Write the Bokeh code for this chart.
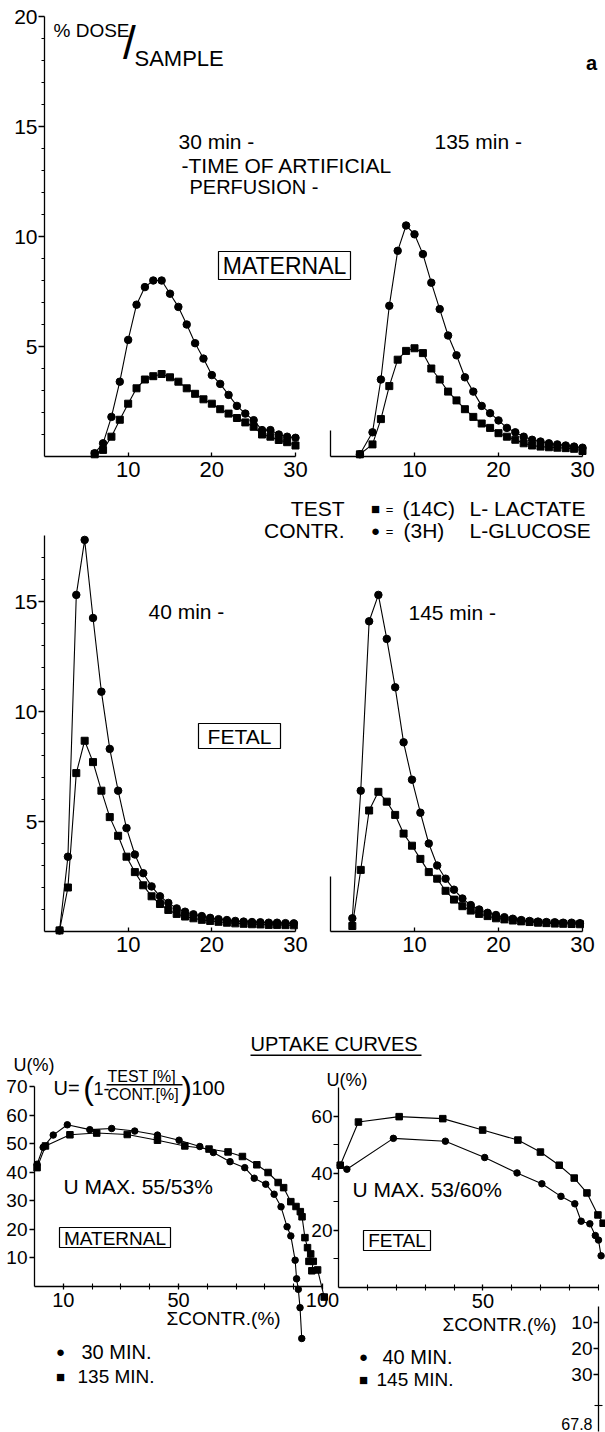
from bokeh.plotting import figure
from bokeh.layouts import column
from bokeh.models import Range1d, LinearAxis, FixedTicker, Label, BoxAnnotation, Grid
from bokeh.embed import file_html
from bokeh.resources import INLINE

# ---------------- data ----------------
# Maternal side, 30 min of artificial perfusion  (x = sample time, y = % dose / sample)
mat30_x = [6, 7, 8, 9, 10, 11, 12, 13, 14, 15, 16, 17, 18, 19, 20, 21, 22, 23, 24, 25, 26, 27, 28, 29, 30]
mat30_contr = [0.15, 0.6, 1.8, 3.4, 5.3, 6.9, 7.7, 8.0, 8.0, 7.4, 6.8, 6.0, 5.15, 4.45, 3.7, 3.3, 2.8, 2.3,
               1.95, 1.65, 1.2, 1.2, 1.0, 0.9, 0.85]
mat30_test = [0.1, 0.3, 0.9, 1.67, 2.4, 3.1, 3.5, 3.65, 3.75, 3.6, 3.4, 3.1, 2.85, 2.6, 2.4, 2.15, 1.95, 1.75,
              1.55, 1.35, 1.0, 0.9, 0.75, 0.65, 0.5]

# Maternal side, 135 min
mat135_x = [3.5, 5, 6, 7, 8, 9, 10, 11, 12, 13, 14, 15, 16, 17, 18, 19, 20, 21, 22, 23, 24, 25, 26, 27, 28, 29, 30]
mat135_contr = [0.1, 1.1, 3.5, 6.85, 9.35, 10.5, 10.1, 9.2, 7.9, 6.7, 5.5, 4.6, 3.6, 2.95, 2.3, 1.97, 1.64, 1.3,
                1.1, 0.9, 0.76, 0.68, 0.6, 0.55, 0.5, 0.45, 0.4]
mat135_test = [0.1, 0.55, 1.7, 3.2, 4.4, 4.8, 4.92, 4.7, 4.0, 3.5, 2.95, 2.55, 2.15, 1.8, 1.5, 1.3, 1.06, 0.9,
               0.76, 0.6, 0.5, 0.45, 0.42, 0.4, 0.38, 0.35, 0.25]

# Fetal side, 40 min
fet40_x = [1.8, 2.8, 3.8, 4.8, 5.8, 6.8, 7.8, 8.8, 9.8, 10.8, 11.8, 12.8, 13.8, 14.8, 15.8, 16.8, 17.8, 18.8,
           19.8, 20.8, 21.8, 22.8, 23.8, 24.8, 25.8, 26.8, 27.8, 28.8, 29.8]
fet40_contr = [0.05, 3.4, 15.3, 17.8, 14.25, 10.9, 8.3, 6.4, 4.7, 3.5, 2.65, 2.05, 1.6, 1.3, 1.05, 0.9, 0.78,
               0.7, 0.62, 0.56, 0.52, 0.48, 0.45, 0.43, 0.42, 0.4, 0.4, 0.38, 0.37]
fet40_test = [0.05, 2.0, 7.2, 8.67, 7.7, 6.4, 5.2, 4.35, 3.4, 2.7, 2.1, 1.6, 1.25, 0.98, 0.8, 0.68, 0.6, 0.53,
              0.48, 0.44, 0.4, 0.37, 0.35, 0.33, 0.32, 0.3, 0.3, 0.29, 0.28]

# Fetal side, 145 min
fet145_x = [2.6, 3.6, 4.6, 5.7, 6.7, 7.7, 8.7, 9.7, 10.7, 11.7, 12.7, 13.7, 14.7, 15.7, 16.7, 17.7, 18.7, 19.7,
            20.7, 21.7, 22.7, 23.7, 24.7, 25.7, 26.7, 27.7, 28.7, 29.7]
fet145_contr = [0.6, 6.4, 14.1, 15.3, 13.3, 11.1, 8.6, 6.9, 5.4, 4.0, 3.0, 2.4, 1.9, 1.5, 1.2, 1.0, 0.85, 0.75,
                0.65, 0.58, 0.52, 0.48, 0.45, 0.43, 0.42, 0.4, 0.4, 0.38]
fet145_test = [0.25, 2.8, 5.5, 6.35, 5.9, 5.3, 4.45, 3.9, 3.3, 2.7, 2.4, 1.85, 1.45, 1.15, 0.95, 0.8, 0.7, 0.6,
               0.55, 0.5, 0.46, 0.43, 0.4, 0.38, 0.36, 0.35, 0.34, 0.33]

# Uptake curves, maternal (x = cumulative control %, y = U %)
up30_x = [0.9, 3.0, 6.5, 11.4, 19.2, 26.8, 34.8, 42.7, 50.2, 57.4, 62.1, 67.9, 73.0, 76.3, 80.3, 83.2, 85.6,
          87.7, 89.0, 90.5, 91.0, 91.6, 92.2, 92.8]
up30_u = [42.8, 48.7, 53.0, 56.6, 54.9, 55.3, 54.4, 53.0, 51.2, 49.0, 46.9, 43.7, 41.6, 37.9, 35.8, 32.3, 27.9,
          20.9, 17.7, 9.2, 2.7, -1.0, -7.4, -18.2]
up135_x = [0.9, 3.8, 12.3, 21.6, 32.2, 42.7, 52.2, 60.6, 67.2, 72.2, 77.2, 81.1, 84.6, 86.5, 89.0, 90.8, 92.3,
           92.9, 93.9, 94.8, 95.9, 95.3, 96.8, 96.3, 98.3, 100.6]
up135_u = [41.6, 49.2, 53.1, 53.7, 53.2, 51.2, 49.2, 48.1, 47.1, 45.5, 42.6, 39.9, 36.4, 34.6, 29.7, 28.0, 26.2,
           24.4, 17.1, 13.6, 11.4, 8.8, 8.8, 5.5, 5.8, -3.7]

# Uptake curves, fetal
up40_x = [0.6, 2.9, 19.0, 37.0, 50.6, 61.8, 70.4, 77.0, 81.8, 84.0, 87.0, 88.9, 90.0, 90.9]
up40_u = [42.8, 41.4, 52.2, 51.2, 45.5, 40.1, 36.3, 31.9, 29.3, 23.2, 22.3, 18.2, 16.6, 11.1]
up145_x = [0.6, 6.9, 21.0, 36.1, 49.9, 62.1, 69.9, 76.4, 81.6, 86.0, 89.8, 91.6]
up145_u = [42.8, 57.9, 59.8, 59.1, 55.1, 51.6, 47.4, 42.8, 38.3, 33.1, 25.4, 22.5]

# tick values
curve_xticks = [10, 20, 30]
mat_yticks = [5, 10, 15, 20]
fet_yticks = [5, 10, 15]
u1_yticks = [10, 20, 30, 40, 50, 60, 70]
u1_xticks = [10, 50, 100]
u1_xminor = [20, 30, 40, 60, 70, 80, 90]
u2_yticks = [20, 40, 60]
u2_yminor = [10, 30, 50]
u2_xticks = [50]
u2_xminor = [10, 20, 30, 40, 60, 70, 80, 90]
down_ticks = [10, 20, 30]

# ---------------- layout machinery ----------------
# Bokeh's page template has no body margin: canvas pixels == page pixels.
W, H = 605, 1432
FONT = "Liberation Sans"
figs = []


class Panel:
    """Linear mapping between page pixels and one panel's data units."""

    def __init__(self, X0, X1, x0, x1, Y0, Y1, y0, y1):
        self.X0, self.X1, self.x0, self.x1 = X0, X1, x0, x1
        self.Y0, self.Y1, self.y0, self.y1 = Y0, Y1, y0, y1

    def dx(self, px):
        return self.x0 + (px - self.X0) * (self.x1 - self.x0) / (self.X1 - self.X0)

    def dy(self, py):
        return self.y0 + (py - self.Y0) * (self.y1 - self.y0) / (self.Y1 - self.Y0)

    def fig(self, L=None, R=None, T=None, B=None):
        L = self.X0 if L is None else L
        R = self.X1 if R is None else R
        T = self.Y1 if T is None else T
        B = self.Y0 if B is None else B
        L, R, T, B = max(L, 0), min(R, W), max(T, 0), min(B, H)
        p = figure(width=W, height=H,
                   x_range=Range1d(self.dx(L), self.dx(R)),
                   y_range=Range1d(self.dy(B), self.dy(T)),
                   output_backend="svg", toolbar_location=None,
                   x_axis_location=None, y_axis_location=None,
                   frame_align=False,
                   min_border_left=L, min_border_right=W - R,
                   min_border_top=T, min_border_bottom=H - B)
        p.background_fill_color = None
        p.border_fill_color = None
        p.outline_line_color = None
        p.center = [r for r in p.center if not isinstance(r, Grid)]
        if figs:
            p.margin = (-H, 0, 0, 0)
        figs.append(p)
        return p


def add_axis(p, side, ticks, minor=(), bounds=None, size=20, tin=0, tout=5, min_in=0, min_out=3,
             standoff=3):
    ax = LinearAxis(ticker=FixedTicker(ticks=list(ticks), minor_ticks=list(minor)))
    if bounds is not None:
        ax.bounds = bounds
    ax.axis_line_color = "black"
    ax.axis_line_width = 1.3
    ax.major_tick_line_color = "black"
    ax.major_tick_line_width = 1.3
    ax.minor_tick_line_color = "black"
    ax.minor_tick_line_width = 1.1
    ax.major_tick_in, ax.major_tick_out = tin, tout
    ax.minor_tick_in, ax.minor_tick_out = min_in, min_out
    ax.major_label_text_font = FONT
    ax.major_label_text_font_size = f"{size}px"
    ax.major_label_text_color = "black"
    ax.major_label_standoff = standoff
    p.add_layout(ax, side)
    return ax


def series(p, xs, ys, marker, size, lw=1.1):
    p.line(xs, ys, line_color="black", line_width=lw)
    p.scatter(xs, ys, marker=marker, size=size, fill_color="black", line_color="black")


# ---------------- panels (page pixel <-> data) ----------------
PM1 = Panel(44, 295, 0, 30, 456, 16, 0, 20)
PM2 = Panel(330, 582, 0, 30, 456, 16, 0, 20)
PF1 = Panel(44, 295, 0, 30, 931, 535, 0, 18)
PF2 = Panel(330, 582, 0, 30, 931, 535, 0, 18)
PU1 = Panel(34, 322, 0, 100, 1286, 1086, 0, 70)
PU2 = Panel(338, 598, 0, 90, 1287, 1087, 0, 70)
PD = Panel(598, 600, 0, 1, 1296, 1322, 0, 10)
PT = Panel(0, 1, 0, 1, 0, 1, 0, 1)          # text layer: page pixels

# --- maternal concentration curves ---
a = PM1.fig()
add_axis(a, "left", mat_yticks, [v for v in range(1, 20) if v % 5], bounds=(0, 20), size=21, tout=6,
         min_out=3, standoff=1)
add_axis(a, "below", curve_xticks, bounds=(0, 30), size=22, tin=4, tout=0, standoff=5)
d = PM1.fig(30, 320, 8, 466)
series(d, mat30_x, mat30_contr, "circle", 7.5)
series(d, mat30_x, mat30_test, "square", 7)

a = PM2.fig()
add_axis(a, "left", [], bounds=(0, 1.2))
add_axis(a, "below", curve_xticks, bounds=(0, 30), size=22, tin=4, tout=0, standoff=5)
d = PM2.fig(320, 600, 8, 466)
series(d, mat135_x, mat135_contr, "circle", 7.5)
series(d, mat135_x, mat135_test, "square", 7)

# --- fetal concentration curves ---
a = PF1.fig()
add_axis(a, "left", fet_yticks, [v for v in range(1, 18) if v % 5], bounds=(0, 18), size=21, tout=6,
         min_out=3, standoff=1)
add_axis(a, "below", curve_xticks, bounds=(0, 30), size=22, tin=4, tout=0, standoff=5)
d = PF1.fig(30, 310, 520, 941)
series(d, fet40_x, fet40_contr, "circle", 7.5)
series(d, fet40_x, fet40_test, "square", 7)

a = PF2.fig()
add_axis(a, "left", [], bounds=(0, 2.5))
add_axis(a, "below", curve_xticks, bounds=(0, 30), size=22, tin=4, tout=0, standoff=5)
d = PF2.fig(320, 600, 520, 941)
series(d, fet145_x, fet145_contr, "circle", 7.5)
series(d, fet145_x, fet145_test, "square", 7)

# --- uptake curves, maternal ---
a = PU1.fig()
add_axis(a, "left", u1_yticks, bounds=(0, 70), size=19, tout=5, standoff=2)
add_axis(a, "below", u1_xticks, u1_xminor, bounds=(0, 100), size=20, tin=3, tout=3, min_in=3, min_out=3,
         standoff=3)
d = PU1.fig(20, 336, 1070, 1360)
series(d, up30_x, up30_u, "circle", 6.5)
series(d, up135_x, up135_u, "square", 6.5)

# --- uptake curves, fetal ---
a = PU2.fig()
add_axis(a, "left", u2_yticks, u2_yminor, bounds=(0, 70), size=19, tout=5, min_out=5, standoff=1)
add_axis(a, "below", u2_xticks, u2_xminor, bounds=(0, 90), size=20, tin=3, tout=3, min_in=3, min_out=3,
         standoff=3)
d = PU2.fig(326, 605, 1075, 1300)
series(d, up40_x, up40_u, "circle", 6.5)
series(d, up145_x, up145_u, "square", 6.5)

# --- broken downward axis at the right edge ---
dd = PD.fig(598, 600, 1300, 1432)
add_axis(dd, "left", down_ticks, [42], bounds=(4, 52), size=19, tout=5, min_in=4, min_out=4, standoff=1)

# ---------------- text layer ----------------
t = PT.fig(0, W, 0, H)


def text(px, py, s, size=20, align="left", bold=False):
    t.add_layout(Label(x=px, y=py, text=s, text_font=FONT, text_font_size=f"{size}px", text_align=align,
                       text_baseline="middle", text_color="black",
                       text_font_style="bold" if bold else "normal"))


def box(l, r, top, bot, filled=False, lw=1.2):
    t.add_layout(BoxAnnotation(left=l, right=r, top=top, bottom=bot, fill_color="black",
                               fill_alpha=1.0 if filled else 0.0,
                               line_color=None if filled else "black", line_width=lw, line_alpha=1.0))


# top block
text(53, 30, "% DOSE", 19)
text(129, 42, "/", 46, align="center")
text(134, 58, "SAMPLE", 22)
text(591, 62, "a", 20, align="center", bold=True)
text(178, 141, "30 min -", 21)
text(434, 141, "135 min -", 21)
text(181, 165, "-TIME  OF  ARTIFICIAL", 21)
text(189, 186, "PERFUSION -", 20)
box(218, 350, 251, 279)
text(284, 265.5, "MATERNAL", 23, align="center")

# tracer legend
text(344, 508, "TEST", 21, align="right")
text(375, 508, "\u25a0", 15, align="center")
text(389, 509, "=", 13, align="center")
text(402, 508, "(14C)", 21)
text(469, 508, "L- LACTATE", 21)
text(344, 530, "CONTR.", 21, align="right")
text(375, 530, "\u25cf", 15, align="center")
text(389, 531, "=", 13, align="center")
text(403, 530, "(3H)", 21)
text(469, 530, "L-GLUCOSE", 21)

# fetal block
text(148, 611, "40 min -", 21)
text(408, 612, "145 min -", 21)
box(198, 280, 723, 748)
text(239, 735.5, "FETAL", 21, align="center")

# uptake, maternal
text(250, 1043, "UPTAKE  CURVES", 20)
box(250, 421, 1054, 1055.6, filled=True)
text(13, 1064, "U(%)", 18)
text(53, 1087, "U=", 20)
text(88, 1087, "(", 32, align="center")
text(93, 1088, "1-", 18)
text(107, 1076, "TEST  [%]", 16)
box(106, 182, 1083.6, 1085, filled=True)
text(107, 1094, "CONT.[%]", 16)
text(186, 1087, ")", 32, align="center")
text(191, 1087, "100", 20)
text(63, 1186, "U MAX.  55/53%", 21)
box(59, 170, 1227, 1247)
text(114.5, 1237.5, "MATERNAL", 19, align="center")
text(166, 1318, "\u03a3CONTR.(%)", 19)
text(60, 1351, "\u25cf", 15, align="center")
text(81, 1351, "30  MIN.", 20)
text(60, 1376, "\u25a0", 15, align="center")
text(77, 1376, "135  MIN.", 19)

# uptake, fetal
text(326, 1079, "U(%)", 18)
text(352, 1189, "U MAX.  53/60%", 21)
box(363, 430, 1230, 1250)
text(396.5, 1240, "FETAL", 19, align="center")
text(442, 1324, "\u03a3CONTR.(%)", 19)
text(363, 1356, "\u25cf", 15, align="center")
text(382, 1356, "40  MIN.", 20)
text(363, 1379, "\u25a0", 15, align="center")
text(376, 1379, "145  MIN.", 19)
text(592, 1423, "67.8", 16, align="right")

layout = column(*figs)
open("out.html", "w").write(file_html(layout, INLINE, title="uptake curves"))
